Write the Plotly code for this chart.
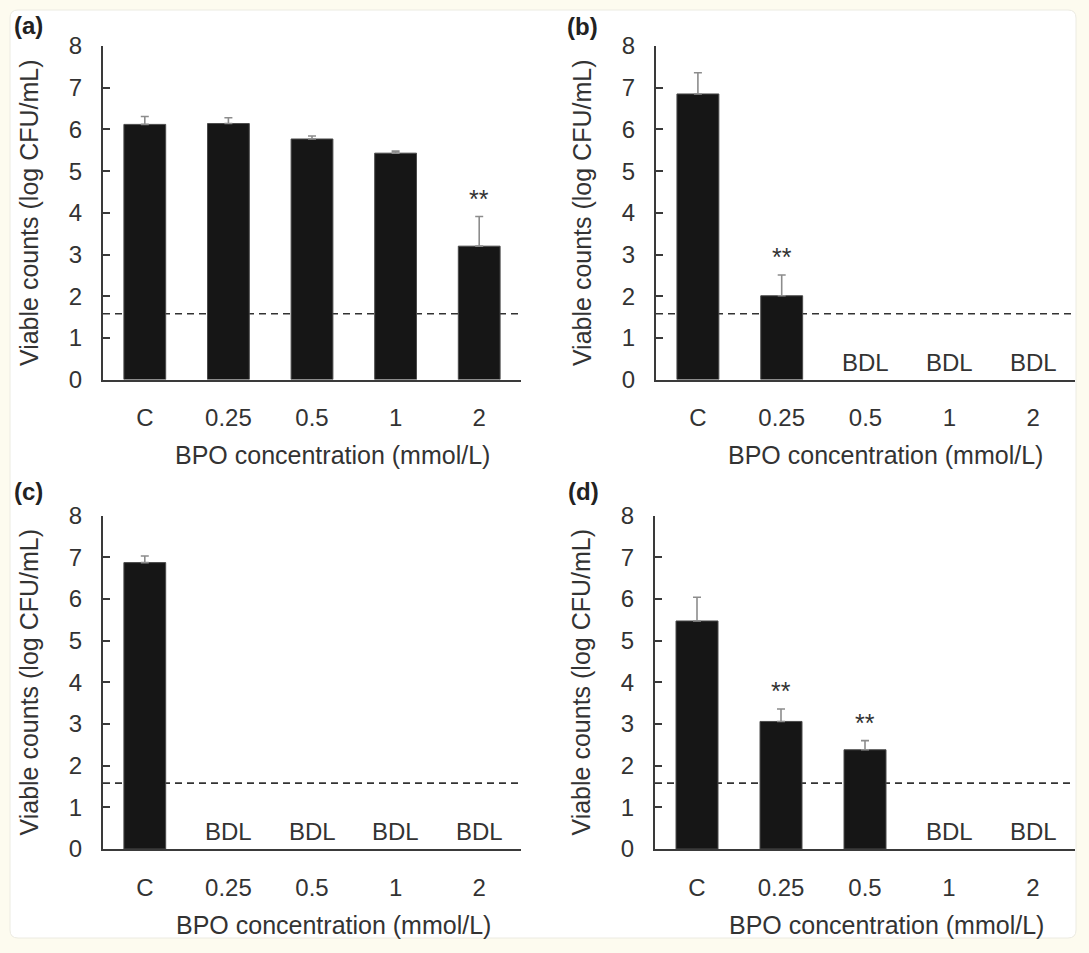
import plotly.graph_objects as go

W, H = 1089, 953

categories = ["C", "0.25", "0.5", "1", "2"]

panel_a_mean = [6.12, 6.14, 5.77, 5.43, 3.20]
panel_a_err = [0.19, 0.14, 0.07, 0.05, 0.71]
panel_a_sig = [False, False, False, False, True]

panel_b_mean = [6.85, 2.01, None, None, None]
panel_b_err = [0.51, 0.50, None, None, None]
panel_b_sig = [False, True, False, False, False]

panel_c_mean = [6.87, None, None, None, None]
panel_c_err = [0.16, None, None, None, None]
panel_c_sig = [False, False, False, False, False]

panel_d_mean = [5.47, 3.06, 2.38, None, None]
panel_d_err = [0.57, 0.30, 0.22, None, None]
panel_d_sig = [False, True, True, False, False]

detection_limit = 1.58
y_ticks = [0, 1, 2, 3, 4, 5, 6, 7, 8]

panel_labels = ["(a)", "(b)", "(c)", "(d)"]
x_title = "BPO concentration (mmol/L)"
y_title = "Viable counts (log CFU/mL)"

FONT = "Liberation Sans, Arial, Helvetica, sans-serif"
TXT = "#333333"
AX = "#3a3a3a"

def fx(px):
    return px / W

def fy(py):
    return 1 - py / H

# pixel layout of each panel: (x_left, x_right, y_top(8), y_bottom(0)), label pos, x-title pos
panels = [
    dict(mean=panel_a_mean, err=panel_a_err, sig=panel_a_sig, box=(103, 521, 46, 379.6),
         lab=(12, 26), xt=(332, 455)),
    dict(mean=panel_b_mean, err=panel_b_err, sig=panel_b_sig, box=(656, 1075, 46, 379.6),
         lab=(565, 27), xt=(885, 455)),
    dict(mean=panel_c_mean, err=panel_c_err, sig=panel_c_sig, box=(103, 521, 515.5, 849),
         lab=(12, 491), xt=(333, 925)),
    dict(mean=panel_d_mean, err=panel_d_err, sig=panel_d_sig, box=(655, 1075, 515.5, 849),
         lab=(566, 491), xt=(886, 925)),
]

fig = go.Figure()
annotations = []
shapes = []

# white rounded panel behind everything
x0, x1, y0, y1 = fx(10), fx(1076), fy(10), fy(938)
rx, ry = 8 / W, 8 / H
path = (f"M {x0+rx},{y0} L {x1-rx},{y0} Q {x1},{y0} {x1},{y0-ry} "
        f"L {x1},{y1+ry} Q {x1},{y1} {x1-rx},{y1} L {x0+rx},{y1} "
        f"Q {x0},{y1} {x0},{y1+ry} L {x0},{y0-ry} Q {x0},{y0} {x0+rx},{y0} Z")
shapes.append(dict(type="path", xref="paper", yref="paper", path=path,
                   fillcolor="white", line=dict(color="#ecebe2", width=1), layer="below"))

layout_axes = {}
for i, p in enumerate(panels):
    n = "" if i == 0 else str(i + 1)
    xa, ya = "x" + n, "y" + n
    xl, xr, yt, yb = p["box"]
    xs = list(range(len(categories)))
    fig.add_trace(go.Bar(
        x=xs, y=p["mean"], xaxis=xa, yaxis=ya, width=0.5,
        marker=dict(color="#161616", line=dict(color="#4a4a4a", width=1)),
        error_y=dict(type="data", symmetric=False,
                     array=[e if e is not None else 0 for e in p["err"]],
                     arrayminus=[0] * len(categories),
                     color="#8c8c8c", thickness=1.6, width=4),
        showlegend=False, hoverinfo="x+y",
    ))
    layout_axes["xaxis" + n] = dict(
        domain=[fx(xl), fx(xr)], range=[-0.5, 4.5], anchor=ya, automargin=False,
        tickmode="array", tickvals=xs, ticktext=categories,
        showline=True, linecolor=AX, linewidth=2, ticks="", showgrid=False,
        zeroline=False, ticklabelstandoff=16,
        tickfont=dict(family=FONT, size=24, color=TXT),
        fixedrange=True,
    )
    layout_axes["yaxis" + n] = dict(
        domain=[fy(yb), fy(yt)], range=[0, 8], anchor=xa, automargin=False,
        tickmode="array", tickvals=y_ticks,
        showline=True, linecolor=AX, linewidth=2,
        ticks="inside", ticklen=7, tickwidth=2, tickcolor=AX,
        showgrid=False, zeroline=False, ticklabelstandoff=14,
        tickfont=dict(family=FONT, size=24, color=TXT),
        title=dict(text=y_title, font=dict(family=FONT, size=25, color=TXT), standoff=23),
        fixedrange=True,
    )
    # detection limit
    shapes.append(dict(type="line", xref=xa + " domain", yref=ya, x0=0, x1=1,
                       y0=detection_limit, y1=detection_limit,
                       line=dict(color="#333333", width=1.6, dash="7px,5px"), layer="below"))
    for j, (m, e, s) in enumerate(zip(p["mean"], p["err"], p["sig"])):
        if m is None:
            annotations.append(dict(x=j, y=0, xref=xa, yref=ya, text="BDL", showarrow=False,
                                    yanchor="bottom", yshift=2,
                                    font=dict(family=FONT, size=24, color=TXT)))
        elif s:
            annotations.append(dict(x=j, y=m + e, xref=xa, yref=ya, text="**", showarrow=False,
                                    yanchor="bottom", yshift=2,
                                    font=dict(family=FONT, size=25, color=TXT)))
    annotations.append(dict(x=fx(p["lab"][0]), y=fy(p["lab"][1]), xref="paper", yref="paper",
                            text="<b>" + panel_labels[i] + "</b>", showarrow=False,
                            xanchor="left", yanchor="middle",
                            font=dict(family=FONT, size=24, color="#222222")))
    annotations.append(dict(x=fx(p["xt"][0]), y=fy(p["xt"][1]), xref="paper", yref="paper",
                            text=x_title, showarrow=False, xanchor="center", yanchor="middle",
                            font=dict(family=FONT, size=25, color=TXT)))

fig.update_layout(
    width=W, height=H, margin=dict(l=0, r=0, t=0, b=0, autoexpand=False),
    paper_bgcolor="#fdfbef", plot_bgcolor="rgba(0,0,0,0)",
    shapes=shapes, annotations=annotations, bargap=0.5,
    **layout_axes,
)

fig.write_html("out.html")
